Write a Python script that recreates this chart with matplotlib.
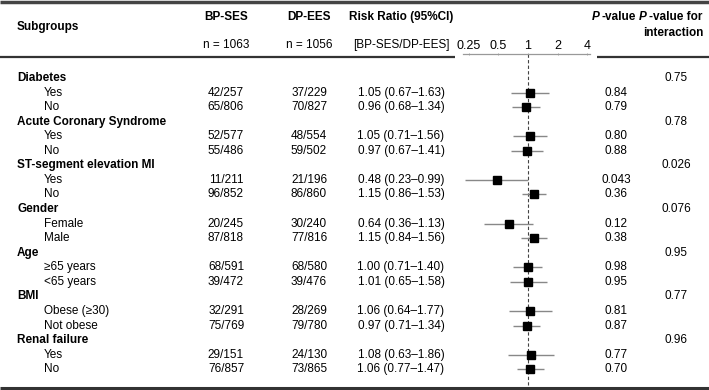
import numpy as np
import matplotlib.pyplot as plt

plt.rcParams['font.family'] = ['Liberation Sans', 'DejaVu Sans']
plt.rcParams['font.size'] = 8.5

groups = ['Diabetes', 'Acute Coronary Syndrome', 'ST-segment elevation MI',
          'Gender', 'Age', 'BMI', 'Renal failure']
subgroups = [['Yes', 'No'], ['Yes', 'No'], ['Yes', 'No'], ['Female', 'Male'],
             ['≥65 years', '<65 years'], ['Obese (≥30)', 'Not obese'], ['Yes', 'No']]
bp_ses = [['42/257', '65/806'], ['52/577', '55/486'], ['11/211', '96/852'],
          ['20/245', '87/818'], ['68/591', '39/472'], ['32/291', '75/769'],
          ['29/151', '76/857']]
dp_ees = [['37/229', '70/827'], ['48/554', '59/502'], ['21/196', '86/860'],
          ['30/240', '77/816'], ['68/580', '39/476'], ['28/269', '79/780'],
          ['24/130', '73/865']]
rr = [[1.05, 0.96], [1.05, 0.97], [0.48, 1.15], [0.64, 1.15],
      [1.00, 1.01], [1.06, 0.97], [1.08, 1.06]]
lo = [[0.67, 0.68], [0.71, 0.67], [0.23, 0.86], [0.36, 0.84],
      [0.71, 0.65], [0.64, 0.71], [0.63, 0.77]]
hi = [[1.63, 1.34], [1.56, 1.41], [0.99, 1.53], [1.13, 1.56],
      [1.40, 1.58], [1.77, 1.34], [1.86, 1.47]]
p_values = [['0.84', '0.79'], ['0.80', '0.88'], ['0.043', '0.36'], ['0.12', '0.38'],
            ['0.98', '0.95'], ['0.81', '0.87'], ['0.77', '0.70']]
p_interaction = ['0.75', '0.78', '0.026', '0.076', '0.95', '0.77', '0.96']
ticks = [0.25, 0.5, 1, 2, 4]

W, H = 709, 390
fig = plt.figure(figsize=(W / 100, H / 100), dpi=100)
bg = fig.add_axes([0, 0, 1, 1])
bg.set_xlim(0, W)
bg.set_ylim(H, 0)
bg.axis('off')

# column positions (pixels)
x_grp, x_sub = 17, 44
x_bp, x_dp, x_rr, x_p, x_int = 226, 309, 401, 616, 676
row0, dy = 78, 14.56

# header rules
bg.plot([0, W], [1.5, 1.5], color='#444444', lw=2.5, solid_capstyle='butt')
bg.plot([0, 455], [57, 57], color='#333333', lw=1.6, solid_capstyle='butt')
bg.plot([597, W], [57, 57], color='#333333', lw=1.6, solid_capstyle='butt')
bg.plot([0, W], [387.5, 387.5], color='#333333', lw=2.2, solid_capstyle='butt')

bg.text(x_grp, 27, 'Subgroups', fontweight='bold', va='center')
bg.text(x_bp, 17, 'BP-SES', fontweight='bold', ha='center', va='center')
bg.text(x_bp, 45, 'n = 1063', ha='center', va='center')
bg.text(x_dp, 17, 'DP-EES', fontweight='bold', ha='center', va='center')
bg.text(x_dp, 45, 'n = 1056', ha='center', va='center')
bg.text(x_rr, 17, 'Risk Ratio (95%CI)', fontweight='bold', ha='center', va='center')
bg.text(x_rr, 45, '[BP-SES/DP-EES]', ha='center', va='center')
bg.text(600, 17, 'P', fontweight='bold', fontstyle='italic', ha='right', va='center')
bg.text(602, 17, '-value', fontweight='bold', ha='left', va='center')
bg.text(647, 17, 'P', fontweight='bold', fontstyle='italic', ha='right', va='center')
bg.text(649, 17, '-value for', fontweight='bold', ha='left', va='center')
bg.text(703, 33, 'interaction', fontweight='bold', ha='right', va='center')

# table rows
row_y = []
i = 0
for g, name in enumerate(groups):
    y = row0 + i * dy
    bg.text(x_grp, y, name, fontweight='bold', va='center')
    bg.text(x_int, y, p_interaction[g], ha='center', va='center')
    i += 1
    for k in range(2):
        y = row0 + i * dy
        row_y.append(y)
        bg.text(x_sub, y, subgroups[g][k], va='center')
        bg.text(x_bp, y, bp_ses[g][k], ha='center', va='center')
        bg.text(x_dp, y, dp_ees[g][k], ha='center', va='center')
        bg.text(x_rr, y, f'{rr[g][k]:.2f} ({lo[g][k]:.2f}\u2013{hi[g][k]:.2f})',
                ha='center', va='center')
        bg.text(x_p, y, p_values[g][k], ha='center', va='center')
        i += 1

# forest plot axes
ax_l, ax_r, ax_t, ax_b = 463, 590, 54, 386
fax = fig.add_axes([ax_l / W, 1 - ax_b / H, (ax_r - ax_l) / W, (ax_b - ax_t) / H])
fax.patch.set_alpha(0)
fax.set_xscale('log', base=2)
fax.set_xlim(0.2173, 4.29)
fax.set_ylim(ax_b, ax_t)
for s in ['bottom', 'left', 'right']:
    fax.spines[s].set_visible(False)
fax.spines['top'].set_color('#999999')
fax.spines['top'].set_linewidth(0.9)
fax.set_yticks([])
fax.set_xticks(ticks)
fax.set_xticklabels(['0.25', '0.5', '1', '2', '4'])
fax.minorticks_off()
fax.tick_params(axis='x', top=True, bottom=False, labeltop=True, labelbottom=False,
                length=1.5, width=0.6, color='#999999', pad=1, labelsize=9,
                direction='inout')

# reference line at RR = 1
fax.plot([1, 1], [ax_t, 385], color='#444444', lw=0.8, dashes=(3, 2))

est = np.array(rr).ravel()
low = np.array(lo).ravel()
high = np.array(hi).ravel()
fax.hlines(row_y, low, high, color='#888888', lw=1.0)
fax.plot(est, row_y, 's', color='black', ms=6.4, mec='black')

fig.savefig('out.png', dpi=100)
